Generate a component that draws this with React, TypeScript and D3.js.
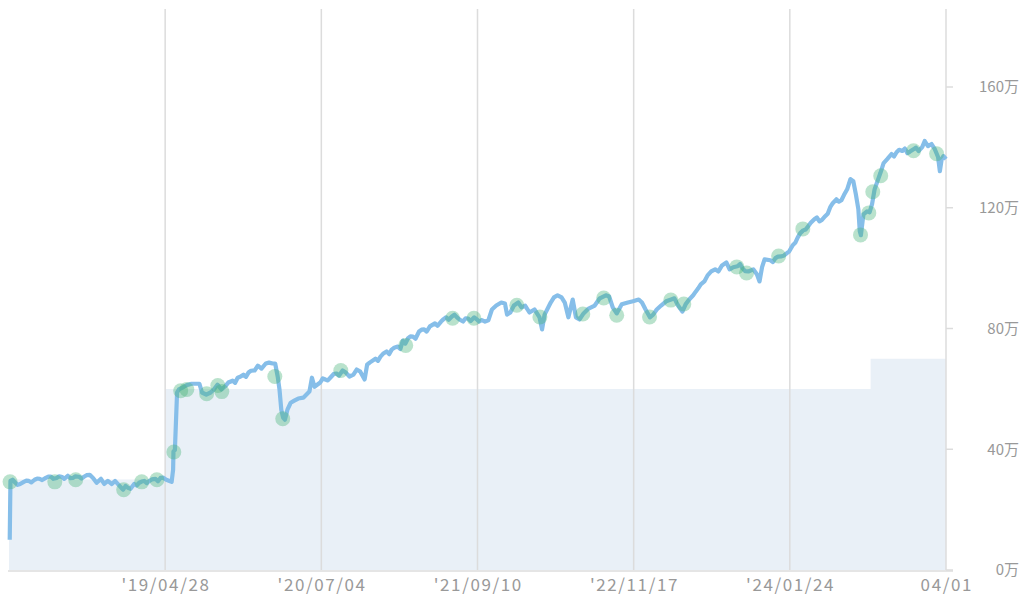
import React from "react";
import * as d3 from "d3";

const lineDates = [
  "2018-02-21","2018-02-23","2018-03-01","2018-03-15","2018-04-01","2018-04-15","2018-05-01","2018-05-15","2018-06-01","2018-06-15",
  "2018-07-01","2018-07-15","2018-08-01","2018-08-15","2018-09-01","2018-09-15","2018-10-01","2018-10-10","2018-10-20","2018-11-01",
  "2018-11-10","2018-11-20","2018-12-01","2018-12-10","2018-12-20","2019-01-01","2019-01-15","2019-02-01","2019-02-15","2019-03-01",
  "2019-03-15","2019-04-01","2019-04-15","2019-05-01","2019-05-10","2019-05-16","2019-05-20","2019-05-21","2019-05-25","2019-05-31",
  "2019-06-05","2019-06-15","2019-06-25","2019-07-01","2019-07-10","2019-07-20","2019-08-01","2019-08-08","2019-08-20","2019-09-01",
  "2019-09-10","2019-09-20","2019-10-01","2019-10-10","2019-10-20","2019-11-01","2019-11-15","2019-12-01","2019-12-15","2020-01-01",
  "2020-01-10","2020-01-20","2020-02-01","2020-02-10","2020-02-20","2020-02-27","2020-03-05","2020-03-10","2020-03-15","2020-03-20",
  "2020-03-25","2020-04-01","2020-04-10","2020-04-20","2020-05-01","2020-05-15","2020-06-01","2020-06-08","2020-06-15","2020-07-01",
  "2020-07-15","2020-08-01","2020-08-15","2020-09-01","2020-09-10","2020-09-20","2020-10-01","2020-10-10","2020-10-20","2020-11-01",
  "2020-11-08","2020-11-15","2020-12-01","2020-12-15","2021-01-01","2021-01-15","2021-02-01","2021-02-15","2021-03-01","2021-03-15",
  "2021-04-01","2021-04-15","2021-05-01","2021-05-15","2021-06-01","2021-06-15","2021-07-01","2021-07-15","2021-08-01","2021-08-15",
  "2021-09-01","2021-09-15","2021-10-01","2021-10-10","2021-10-20","2021-11-01","2021-11-15","2021-11-25","2021-12-01","2021-12-10",
  "2021-12-20","2022-01-01","2022-01-10","2022-01-20","2022-02-01","2022-02-15","2022-03-01","2022-03-08","2022-03-15","2022-04-01",
  "2022-04-10","2022-04-20","2022-05-01","2022-05-10","2022-05-20","2022-06-01","2022-06-10","2022-06-20","2022-07-01","2022-07-15",
  "2022-08-01","2022-08-15","2022-09-01","2022-09-10","2022-09-20","2022-10-01","2022-10-15","2022-11-01","2022-11-15","2022-12-01",
  "2022-12-10","2022-12-20","2023-01-01","2023-01-10","2023-01-20","2023-02-01","2023-02-15","2023-03-01","2023-03-10","2023-03-20",
  "2023-04-01","2023-04-10","2023-04-20","2023-05-01","2023-05-15","2023-06-01","2023-06-10","2023-06-20","2023-07-01","2023-07-10",
  "2023-07-20","2023-08-01","2023-08-10","2023-08-20","2023-09-01","2023-09-15","2023-10-01","2023-10-15","2023-10-25","2023-11-01",
  "2023-11-08","2023-11-15","2023-12-01","2023-12-15","2024-01-01","2024-01-15","2024-02-01","2024-02-15","2024-03-01","2024-03-15",
  "2024-04-01","2024-04-15","2024-05-01","2024-05-15","2024-06-01","2024-06-15","2024-07-01","2024-07-10","2024-07-18","2024-07-25",
  "2024-08-01","2024-08-05","2024-08-08","2024-08-15","2024-08-25","2024-09-01","2024-09-08","2024-09-15","2024-09-25","2024-10-01",
  "2024-10-10","2024-10-20","2024-11-01","2024-11-15","2024-12-01","2024-12-15","2025-01-01","2025-01-15","2025-01-25","2025-02-01",
  "2025-02-10","2025-02-20","2025-03-01","2025-03-10","2025-03-15","2025-03-20","2025-03-25","2025-04-01"
];

const lineValues = [
  10.0,29.5,29.9,28.2,29.2,29.5,29.9,30.2,30.5,30.9,
  30.5,30.9,31.2,30.5,30.9,30.9,31.5,30.5,28.9,30.2,
  28.5,29.5,28.5,29.5,28.2,26.6,27.2,28.5,28.9,29.5,
  29.5,30.2,30.5,29.9,29.5,29.2,33.2,39.2,39.8,58.8,
  59.8,60.4,61.1,61.4,61.7,61.7,61.7,58.8,58.1,58.8,
  59.8,61.4,59.8,60.7,62.1,62.7,63.7,64.7,65.4,66.1,
  67.7,66.7,68.4,68.7,68.4,68.4,64.1,59.8,53.1,50.5,
  49.8,53.1,55.4,56.1,56.8,57.1,59.1,63.7,60.7,62.1,
  63.1,64.1,65.1,66.1,65.4,64.1,64.7,66.4,65.7,63.1,
  68.0,68.7,70.0,70.7,72.4,73.0,74.0,76.0,76.7,77.3,
  79.0,79.7,80.7,81.7,82.3,83.7,84.0,83.7,82.3,83.3,
  83.7,82.3,82.3,82.7,86.3,87.6,88.6,88.3,84.6,85.3,
  87.6,88.6,87.0,87.6,85.3,86.3,83.7,79.7,84.6,88.6,
  90.3,91.0,90.3,88.6,83.7,89.6,83.7,83.0,85.0,86.6,
  87.6,90.0,91.0,90.6,87.0,85.0,88.0,88.6,89.0,89.6,
  88.6,86.3,83.7,84.6,86.3,87.6,89.0,89.6,90.0,87.6,
  85.6,88.0,89.6,91.0,93.3,95.6,97.6,98.9,99.6,98.9,
  100.9,101.9,99.6,100.3,100.6,99.9,98.9,99.6,97.9,95.6,
  100.3,102.9,102.6,103.3,103.9,104.9,107.6,110.2,112.5,113.9,
  116.2,115.5,117.2,120.2,122.8,122.5,126.1,129.5,128.8,124.5,
  119.5,112.2,110.9,117.8,118.8,118.5,121.2,126.1,129.5,131.5,
  134.8,136.1,137.8,138.4,138.8,138.1,139.4,138.8,140.1,142.1,
  140.4,141.1,139.4,136.8,132.1,136.1,137.1,136.1
];

// extra in-between readings (small wiggles of the valuation line)
const extraDates = [
  "2018-03-08","2018-03-22","2018-04-08","2018-04-22","2018-05-08","2018-05-22","2018-06-08","2018-06-22","2018-07-08","2018-07-22",
  "2018-08-08","2018-08-22","2018-09-08","2018-09-22","2019-01-08","2019-01-22","2019-02-08","2019-02-22","2019-03-08","2019-03-22",
  "2019-04-08","2019-04-22","2019-11-08","2019-11-22","2019-12-08","2019-12-22","2020-07-08","2020-07-22","2020-08-08","2020-08-22",
  "2020-12-08","2020-12-22","2021-01-08","2021-01-22","2021-02-08","2021-02-22","2021-03-08","2021-03-22","2021-04-08","2021-04-22",
  "2021-05-08","2021-05-22","2021-06-08","2021-06-22","2021-07-08","2021-07-22","2021-08-08","2021-08-22","2021-09-08","2021-09-22",
  "2023-05-08","2023-05-22","2023-09-08","2023-09-22","2023-12-08","2023-12-22","2024-01-08","2024-01-22","2024-02-08","2024-02-22",
  "2024-03-08","2024-03-22","2024-04-08","2024-04-22","2024-05-08","2024-05-22","2024-06-08","2024-06-22","2024-11-08","2024-11-22",
  "2024-12-08","2024-12-22","2025-01-08"
];
const extraValues = [
  29.0,28.5,29.6,29.0,30.3,29.8,30.9,30.2,31.0,30.2,
  30.4,31.0,30.3,31.4,27.8,26.9,28.0,29.3,28.8,30.0,
  29.4,30.6,62.0,64.0,64.0,66.0,63.5,62.8,65.0,64.4,
  69.3,71.6,71.5,73.6,73.2,75.0,77.4,76.6,79.6,79.0,
  81.2,80.9,83.1,82.9,84.6,83.0,83.4,82.5,83.0,82.8,
  92.2,94.6,101.4,99.0,102.0,103.8,104.2,105.5,108.4,111.6,
  112.8,115.0,116.8,116.0,118.0,121.5,122.0,124.2,137.0,139.2,
  139.6,138.6,139.9
];

const tradeDates = [
  "2018-02-22","2018-06-26","2018-08-23","2019-01-03","2019-02-22","2019-04-05","2019-05-22","2019-06-10","2019-06-27","2019-08-21",
  "2019-09-21","2019-10-02","2020-02-26","2020-03-19","2020-08-27","2021-02-23","2021-07-03","2021-08-31","2021-12-28","2022-03-02",
  "2022-06-29","2022-08-26","2022-10-01","2022-12-31","2023-02-28","2023-04-05","2023-08-30","2023-09-26","2023-12-24","2024-02-29",
  "2024-08-07","2024-08-30","2024-09-10","2024-10-02","2025-01-01","2025-03-06"
];
const tradeValues = [
  29.2,29.2,29.9,26.6,29.2,29.9,39.1,59.4,59.8,58.4,
  61.1,59.1,64.1,50.1,66.1,74.4,83.4,83.4,87.7,83.8,
  84.8,90.1,84.4,83.8,89.4,88.1,100.4,98.4,104.0,113.0,
  111.0,118.3,125.3,130.6,138.9,137.9
];

const investDates = ["2018-02-19","2019-04-28","2024-09-04","2025-04-01"];
const investValues = [30, 60, 70, 70];

const xTickDates = ["2019-04-28","2020-07-04","2021-09-10","2022-11-17","2024-01-24","2025-04-01"];
const xTickLabels = ["'19/04/28","'20/07/04","'21/09/10","'22/11/17","'24/01/24","04/01"];
const yTicks = [0, 40, 80, 120, 160];

const parse = d3.utcParse("%Y-%m-%d");

export default function App() {
  const W = 1024, H = 602;
  const x = d3.scaleUtc().domain([parse("2018-02-19")!, parse("2025-04-01")!]).range([9, 946]);
  const y = d3.scaleLinear().domain([0, 160]).range([570, 87]);

  const linePts = lineDates.map((d, i) => ({ d: parse(d)!, v: lineValues[i] }))
    .concat(extraDates.map((d, i) => ({ d: parse(d)!, v: extraValues[i] })))
    .sort((a, b) => +a.d - +b.d);
  const investPts = investDates.map((d, i) => ({ d: parse(d)!, v: investValues[i] }));
  const trades = tradeDates.map((d, i) => ({ d: parse(d)!, v: tradeValues[i] }));

  const linePath = d3.line<{ d: Date; v: number }>().x(p => x(p.d)).y(p => y(p.v))(linePts) || "";
  const areaPath = d3.area<{ d: Date; v: number }>().curve(d3.curveStepAfter)
    .x(p => x(p.d)).y0(y(0)).y1(p => y(p.v))(investPts) || "";

  const font = "'Noto Sans CJK JP', 'Noto Sans', sans-serif";
  return (
    <svg width={W} height={H} style={{ position: "absolute", left: 0, top: 0 }}>
      <rect width={W} height={H} fill="#fff" />
      <path d={areaPath} fill="#e9f0f7" />
      {xTickDates.map((t, i) => (
        <line key={"g" + i} x1={x(parse(t)!)} x2={x(parse(t)!)} y1={9} y2={y(0)} stroke="#dcdcdc" strokeWidth={1.5} />
      ))}
      <line x1={8} x2={953} y1={y(0) + 1} y2={y(0) + 1} stroke="#dcdcdc" strokeWidth={1.5} />
      {yTicks.map((t, i) => (
        <g key={"y" + i}>
          <line x1={946} x2={953} y1={y(t)} y2={y(t)} stroke="#dcdcdc" strokeWidth={1.5} />
          <text x={1019} y={y(t)} dy="0.35em" textAnchor="end" fontSize={15} fill="#999" fontFamily={font}>{t}万</text>
        </g>
      ))}
      {xTickDates.map((t, i) => (
        <text key={"x" + i} x={x(parse(t)!) + 0.8} y={591} textAnchor="middle" fontSize={17} letterSpacing={1.6} fill="#999" fontFamily={font}>{xTickLabels[i]}</text>
      ))}
      <path d={linePath} fill="none" stroke="#86bee9" strokeWidth={4.2} strokeLinejoin="round" />
      {trades.map((p, i) => (
        <circle key={"c" + i} cx={x(p.d)} cy={y(p.v)} r={7.5} fill="rgb(70,180,120)" fillOpacity={0.38} />
      ))}
    </svg>
  );
}
